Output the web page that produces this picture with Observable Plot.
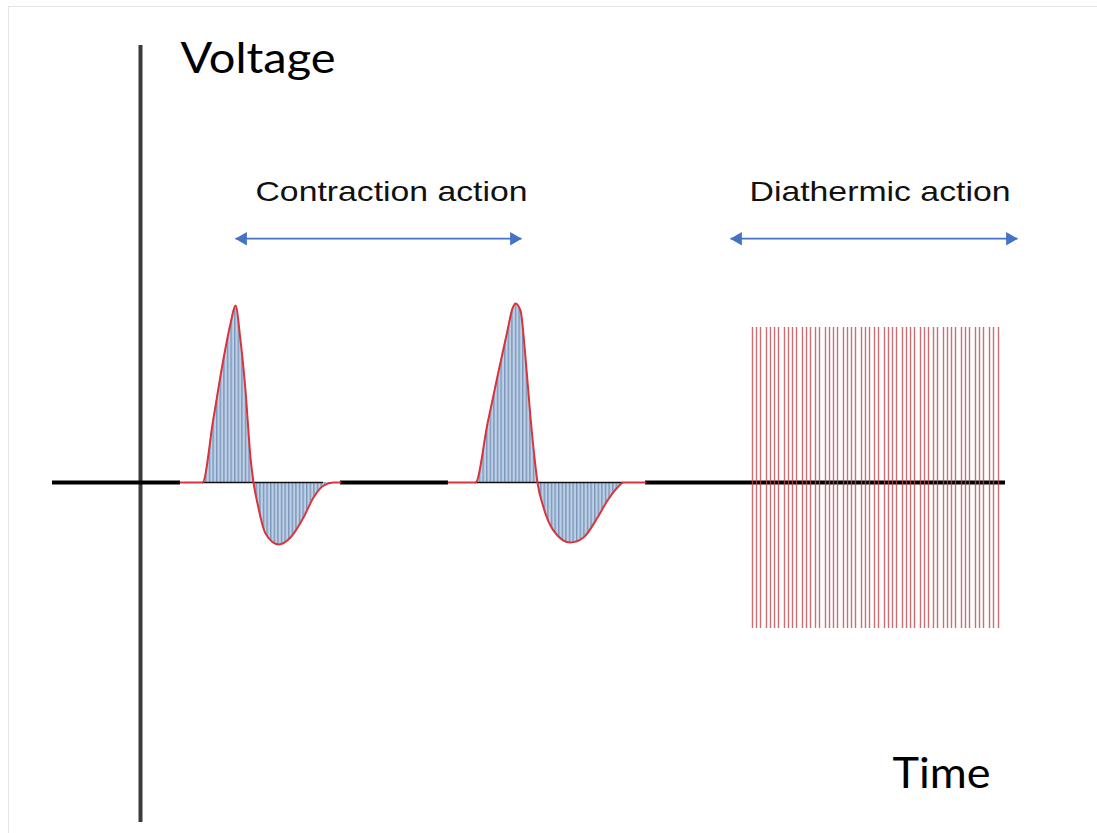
<!DOCTYPE html>
<html><head><meta charset="utf-8">
<script src="https://cdn.jsdelivr.net/npm/d3@7"></script>
<script src="https://cdn.jsdelivr.net/npm/@observablehq/plot@0.6"></script>
<style>
html,body{margin:0;padding:0;background:#fff;}
#wrap{position:relative;width:1097px;height:833px;overflow:hidden;}
#frame{position:absolute;left:8px;top:6px;right:-4px;bottom:-4px;border-top:1.5px solid #e3e3e3;border-left:1.5px solid #e3e3e3;pointer-events:none;}
svg{position:absolute;left:0;top:0;}
</style></head><body><div id="wrap"><div id="frame"></div></div>
<script>
// Pulse 1 (contraction): time and voltage
const pulse1T = [4.0, 6.2, 7.27, 8.33, 9.0, 9.5, 10.0, 10.5, 11.0, 11.3, 11.7, 12.5, 13.8, 15.0, 16.3, 17.3, 18.3, 19.3, 20.0];
const pulse1V = [0, 0, 3.52, 7.04, 8.92, 9.94, 7.98, 5.17, 1.40, 0, -1.18, -2.87, -3.48, -3.09, -1.97, -0.84, -0.17, 0, 0];
// Pulse 2 (contraction)
const pulse2T = [30.8, 33.5, 34.7, 35.76, 36.7, 37.2, 37.5, 38.0, 38.5, 39.0, 39.4, 39.7, 40.3, 41.3, 43.0, 44.3, 45.7, 46.7, 47.7, 48.3, 50.5];
const pulse2V = [0, 0, 3.31, 6.12, 8.54, 9.78, 10.06, 9.66, 7.02, 3.65, 1.40, 0, -1.40, -2.70, -3.37, -3.09, -1.97, -1.01, -0.28, 0, 0];
// Diathermic high-frequency oscillation: times of each spike
const diaT = [61.2, 61.6, 62.0, 62.6, 63.0, 63.4, 63.8, 64.4, 64.8, 65.2, 65.6, 66.2, 66.6, 67.0, 67.5, 67.9, 68.5, 68.9, 69.3, 69.7, 70.3, 70.7, 71.1, 71.5, 72.1, 72.5, 72.9, 73.4, 73.8, 74.4, 74.8, 75.2, 75.6, 76.2, 76.6, 77.0, 77.4, 78.0, 78.4, 78.8, 79.3, 79.7, 80.3, 80.7, 81.1, 81.5, 82.1, 82.5, 82.9, 83.5, 83.9, 84.3, 84.9, 85.3, 85.8];
const diaHigh = 8.71;
const diaLow = -8.20;
// Axis extents
const timeAxisSegments = [[-8.8, 4.0], [20.0, 30.8], [50.5, 86.5]];
const thinBaseSegments = [[6.2, 18.3], [33.5, 48.3]];
const voltageAxis = {t: 0, low: -19.1, high: 24.55};
// Annotation arrows
const arrowStarts = [9.5, 59.0];
const arrowEnds = [38.1, 87.7];
const arrowLevel = 13.7;
// Labels
const labelText = ["Contraction action", "Diathermic action"];
const labelT = [25.1, 73.95];
const labelV = 16.3;
const axisTitles = ["Voltage", "Time"];
const axisTitleT = [4.0, 75.2];
const axisTitleV = [23.76, -16.4];

const p1 = pulse1T.map((t, i) => ({t, v: pulse1V[i]}));
const p2 = pulse2T.map((t, i) => ({t, v: pulse2V[i]}));
const arrows = arrowStarts.map((s, i) => ({s, e: arrowEnds[i], v: arrowLevel}));
const labels = labelText.map((text, i) => ({text, t: labelT[i], v: labelV}));
const titles = axisTitles.map((text, i) => ({text, t: axisTitleT[i], v: axisTitleV[i]}));
const seg = a => a.map(([a1, a2]) => ({a1, a2, v: 0}));

const chart = Plot.plot({
  width: 1097, height: 833,
  marginLeft: 0, marginRight: 0, marginTop: 0, marginBottom: 0,
  x: {domain: [-14, 95.7], axis: null},
  y: {domain: [-19.72, 27.08], axis: null},
  style: {background: "transparent", overflow: "visible"},
  marks: [
    Plot.ruleX([voltageAxis], {x: "t", y1: "low", y2: "high", stroke: "#3c3c3c", strokeWidth: 4, style: "filter: blur(0.6px)"}),
    Plot.areaY(p1, {x: "t", y: "v", curve: "monotone-x", fill: "url(#hatch)"}),
    Plot.areaY(p2, {x: "t", y: "v", curve: "monotone-x", fill: "url(#hatch)"}),
    Plot.ruleY(seg(timeAxisSegments), {y: "v", x1: "a1", x2: "a2", stroke: "#000", strokeWidth: 4}),
    Plot.ruleY(seg(thinBaseSegments), {y: "v", x1: "a1", x2: "a2", stroke: "#111", strokeWidth: 1.6}),
    Plot.line(p1, {x: "t", y: "v", curve: "monotone-x", stroke: "#d8343c", strokeWidth: 2}),
    Plot.line(p2, {x: "t", y: "v", curve: "monotone-x", stroke: "#d8343c", strokeWidth: 2}),
    Plot.ruleX(diaT, {x: d => d, y1: diaLow, y2: diaHigh, stroke: "#bb4a50", strokeWidth: 1.4, strokeOpacity: 0.8}),
    Plot.link(arrows, {x1: "s", x2: "e", y1: "v", y2: "v", stroke: "#4472c4", strokeWidth: 1.6}),
    Plot.dot(arrows, {x: "s", y: "v", symbol: "triangle", r: 5, rotate: -90, fill: "#4472c4", stroke: "none", dx: 7.5}),
    Plot.dot(arrows, {x: "e", y: "v", symbol: "triangle", r: 5, rotate: 90, fill: "#4472c4", stroke: "none", dx: -7.5}),
    Plot.text(labels, {x: "t", y: "v", text: "text", fontFamily: "Liberation Sans, Arial, sans-serif", fontSize: 28, fill: "#111", textAnchor: "middle"}),
    Plot.text(titles, {x: "t", y: "v", text: "text", fontFamily: "Lato, Open Sans, sans-serif", fontSize: 43, fill: "#000", textAnchor: "start", style: "filter: drop-shadow(1px 2px 1.5px rgba(0,0,0,0.35))"})
  ]
});

const svg = d3.select(chart);
const defs = svg.insert("defs", ":first-child");
const pat = defs.append("pattern").attr("id", "hatch").attr("patternUnits", "userSpaceOnUse").attr("width", 3.6).attr("height", 10);
pat.append("rect").attr("width", 3.6).attr("height", 10).attr("fill", "#bdd0e6");
pat.append("line").attr("x1", 0.8).attr("x2", 0.8).attr("y1", 0).attr("y2", 10).attr("stroke", "#3d6394").attr("stroke-width", 0.8);

// Horizontally stretch texts to match reference proportions
const widths = {"Contraction action": 272, "Diathermic action": 261, "Voltage": 155, "Time": 98};
svg.selectAll("text").each(function() {
  const w = widths[this.textContent.trim()];
  if (w) { this.setAttribute("textLength", w); this.setAttribute("lengthAdjust", "spacingAndGlyphs"); }
});

document.getElementById("wrap").appendChild(chart);
</script>
</body></html>
